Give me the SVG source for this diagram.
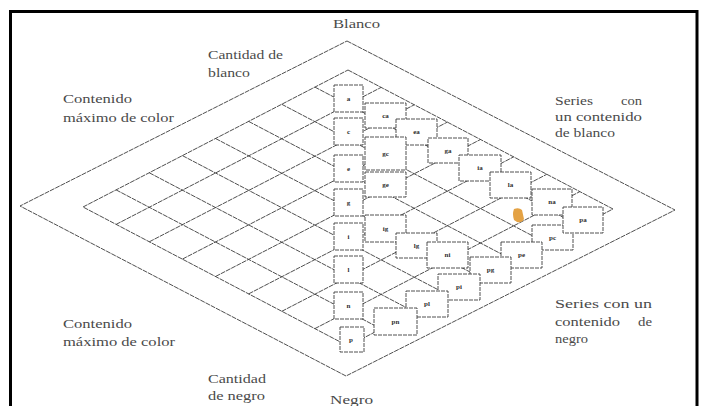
<svg xmlns="http://www.w3.org/2000/svg" width="705" height="406" viewBox="0 0 705 406">
  <style>
    .ln { fill: none; stroke: #3c3c3c; stroke-width: 0.9; stroke-dasharray: 5 0.9; }
    .bx rect { fill: #ffffff; stroke: #3c3c3c; stroke-width: 0.9; stroke-dasharray: 4 1; }
    .bx text { font-family: "Liberation Serif", "Times New Roman", serif; font-size: 7px; font-weight: bold; fill: #2e2e2e; text-anchor: middle; }
    .lbl { font-family: "Liberation Serif", "Times New Roman", serif; font-size: 12.5px; fill: #4a4a4a; }
  </style>

  <rect width="705" height="406" fill="#ffffff"/>
  <!-- page frame -->
  <rect x="10.5" y="11.5" width="686.5" height="420" fill="none" stroke="#000000" stroke-width="3"/>

  <!-- diamonds and grid -->
  <g id="connectors">
    <path class="ln" d="M347,41 L675,210 L346,376 L20,206 Z"/>
    <path class="ln" d="M348,70 L613,209 L348,346 L83,207 Z"/>
    <path class="ln" d="M116.1,189.9 L381.1,328.9 M149.3,172.8 L414.3,311.8 M182.4,155.6 L447.4,294.6 M215.5,138.5 L480.5,277.5 M248.6,121.4 L513.6,260.4 M281.8,104.3 L546.8,243.3 M314.9,87.1 L579.9,226.1"/>
    <path class="ln" d="M116.1,224.4 L381.1,87.4 M149.3,241.8 L414.3,104.8 M182.4,259.1 L447.4,122.1 M215.5,276.5 L480.5,139.5 M248.6,293.9 L513.6,156.9 M281.8,311.3 L546.8,174.3 M314.9,328.6 L579.9,191.6"/>
  </g>

  <!-- grey axis -->
  <g id="axis-a" class="bx"><rect x="334" y="85" width="29" height="27"/><text x="348.5" y="101">a</text></g>
  <g id="axis-c" class="bx"><rect x="334" y="118" width="29" height="27"/><text x="348.5" y="134">c</text></g>
  <g id="axis-e" class="bx"><rect x="334" y="155" width="29" height="27"/><text x="348.5" y="171">e</text></g>
  <g id="axis-g" class="bx"><rect x="334" y="189" width="29" height="27"/><text x="348.5" y="205">g</text></g>
  <g id="axis-i" class="bx"><rect x="334" y="223" width="29" height="27"/><text x="348.5" y="239">i</text></g>
  <g id="axis-l" class="bx"><rect x="334" y="256" width="29" height="27"/><text x="348.5" y="272">l</text></g>
  <g id="axis-n" class="bx"><rect x="334" y="292" width="29" height="27"/><text x="348.5" y="308">n</text></g>
  <g id="axis-p" class="bx"><rect x="340" y="327" width="24" height="25"/><text x="351" y="342">p</text></g>

  <!-- coloured samples -->
  <g id="s-ca" class="bx"><rect x="365" y="103" width="41" height="25"/><text x="385.5" y="118">ca</text></g>
  <g id="s-ea" class="bx"><rect x="396" y="119" width="41" height="26"/><text x="416.5" y="134">ea</text></g>
  <g id="s-gc" class="bx"><rect x="365" y="137" width="41" height="33"/><text x="385.5" y="156">gc</text></g>
  <g id="s-ga" class="bx"><rect x="428" y="138" width="40" height="25"/><text x="448" y="153">ga</text></g>
  <g id="s-ia" class="bx"><rect x="459" y="155" width="42" height="26"/><text x="480" y="170">ia</text></g>
  <g id="s-ge" class="bx"><rect x="365" y="172" width="41" height="25"/><text x="385.5" y="187">ge</text></g>
  <g id="s-la" class="bx"><rect x="490" y="172" width="41" height="26"/><text x="510.5" y="187">la</text></g>
  <g id="s-na" class="bx"><rect x="532" y="189" width="40" height="26"/><text x="552" y="204">na</text></g>
  <g id="s-pc" class="bx"><rect x="532" y="225" width="41" height="25"/><text x="552.5" y="240">pc</text></g>
  <g id="s-pa" class="bx"><rect x="563" y="207" width="40" height="26"/><text x="583" y="222">pa</text></g>
  <g id="s-ig" class="bx"><rect x="365" y="215" width="41" height="27"/><text x="385.5" y="231">ig</text></g>
  <g id="s-lg" class="bx"><rect x="396" y="233" width="41" height="25"/><text x="416.5" y="248">lg</text></g>
  <g id="s-ni" class="bx"><rect x="427" y="242" width="41" height="26"/><text x="447.5" y="257">ni</text></g>
  <g id="s-pe" class="bx"><rect x="501" y="242" width="41" height="26"/><text x="521.5" y="257">pe</text></g>
  <g id="s-pg" class="bx"><rect x="470" y="257" width="41" height="26"/><text x="490.5" y="272">pg</text></g>
  <g id="s-pi" class="bx"><rect x="438" y="274" width="42" height="26"/><text x="459" y="289">pi</text></g>
  <g id="s-pl" class="bx"><rect x="406" y="291" width="42" height="26"/><text x="427" y="306">pl</text></g>
  <g id="s-pn" class="bx"><rect x="374" y="308" width="43" height="27"/><text x="395.5" y="324">pn</text></g>

  <!-- marker smudge -->
  <path d="M514,209 Q519,207 522,210 L524,219 Q522,223 517,222 L514,220 Q512,214 514,209 Z" fill="#e4a244"/>

  <!-- captions -->
  <g id="cap-blanco"><text class="lbl" x="333" y="28" textLength="47" lengthAdjust="spacingAndGlyphs">Blanco</text></g>
  <g id="cap-cantidad-blanco">
    <text class="lbl" x="208" y="59" textLength="75" lengthAdjust="spacingAndGlyphs">Cantidad de</text>
    <text class="lbl" x="208" y="77" textLength="42" lengthAdjust="spacingAndGlyphs">blanco</text>
  </g>
  <g id="cap-max-top">
    <text class="lbl" x="63" y="103" textLength="69" lengthAdjust="spacingAndGlyphs">Contenido</text>
    <text class="lbl" x="63" y="122" textLength="111" lengthAdjust="spacingAndGlyphs">máximo de color</text>
  </g>
  <g id="cap-series-blanco">
    <text class="lbl" x="555" y="105" textLength="38" lengthAdjust="spacingAndGlyphs">Series</text>
    <text class="lbl" x="621" y="105" textLength="21" lengthAdjust="spacingAndGlyphs">con</text>
    <text class="lbl" x="555" y="121" textLength="87" lengthAdjust="spacingAndGlyphs">un contenido</text>
    <text class="lbl" x="555" y="137" textLength="60" lengthAdjust="spacingAndGlyphs">de blanco</text>
  </g>
  <g id="cap-max-bottom">
    <text class="lbl" x="63" y="328" textLength="69" lengthAdjust="spacingAndGlyphs">Contenido</text>
    <text class="lbl" x="63" y="346" textLength="112" lengthAdjust="spacingAndGlyphs">máximo de color</text>
  </g>
  <g id="cap-series-negro">
    <text class="lbl" x="555" y="308" textLength="97" lengthAdjust="spacingAndGlyphs">Series con un</text>
    <text class="lbl" x="555" y="326" textLength="65" lengthAdjust="spacingAndGlyphs">contenido</text>
    <text class="lbl" x="638" y="326" textLength="14" lengthAdjust="spacingAndGlyphs">de</text>
    <text class="lbl" x="555" y="343" textLength="33" lengthAdjust="spacingAndGlyphs">negro</text>
  </g>
  <g id="cap-cantidad-negro">
    <text class="lbl" x="208" y="383" textLength="58" lengthAdjust="spacingAndGlyphs">Cantidad</text>
    <text class="lbl" x="208" y="400" textLength="57" lengthAdjust="spacingAndGlyphs">de negro</text>
  </g>
  <g id="cap-negro"><text class="lbl" x="330" y="404" textLength="43" lengthAdjust="spacingAndGlyphs">Negro</text></g>
</svg>
